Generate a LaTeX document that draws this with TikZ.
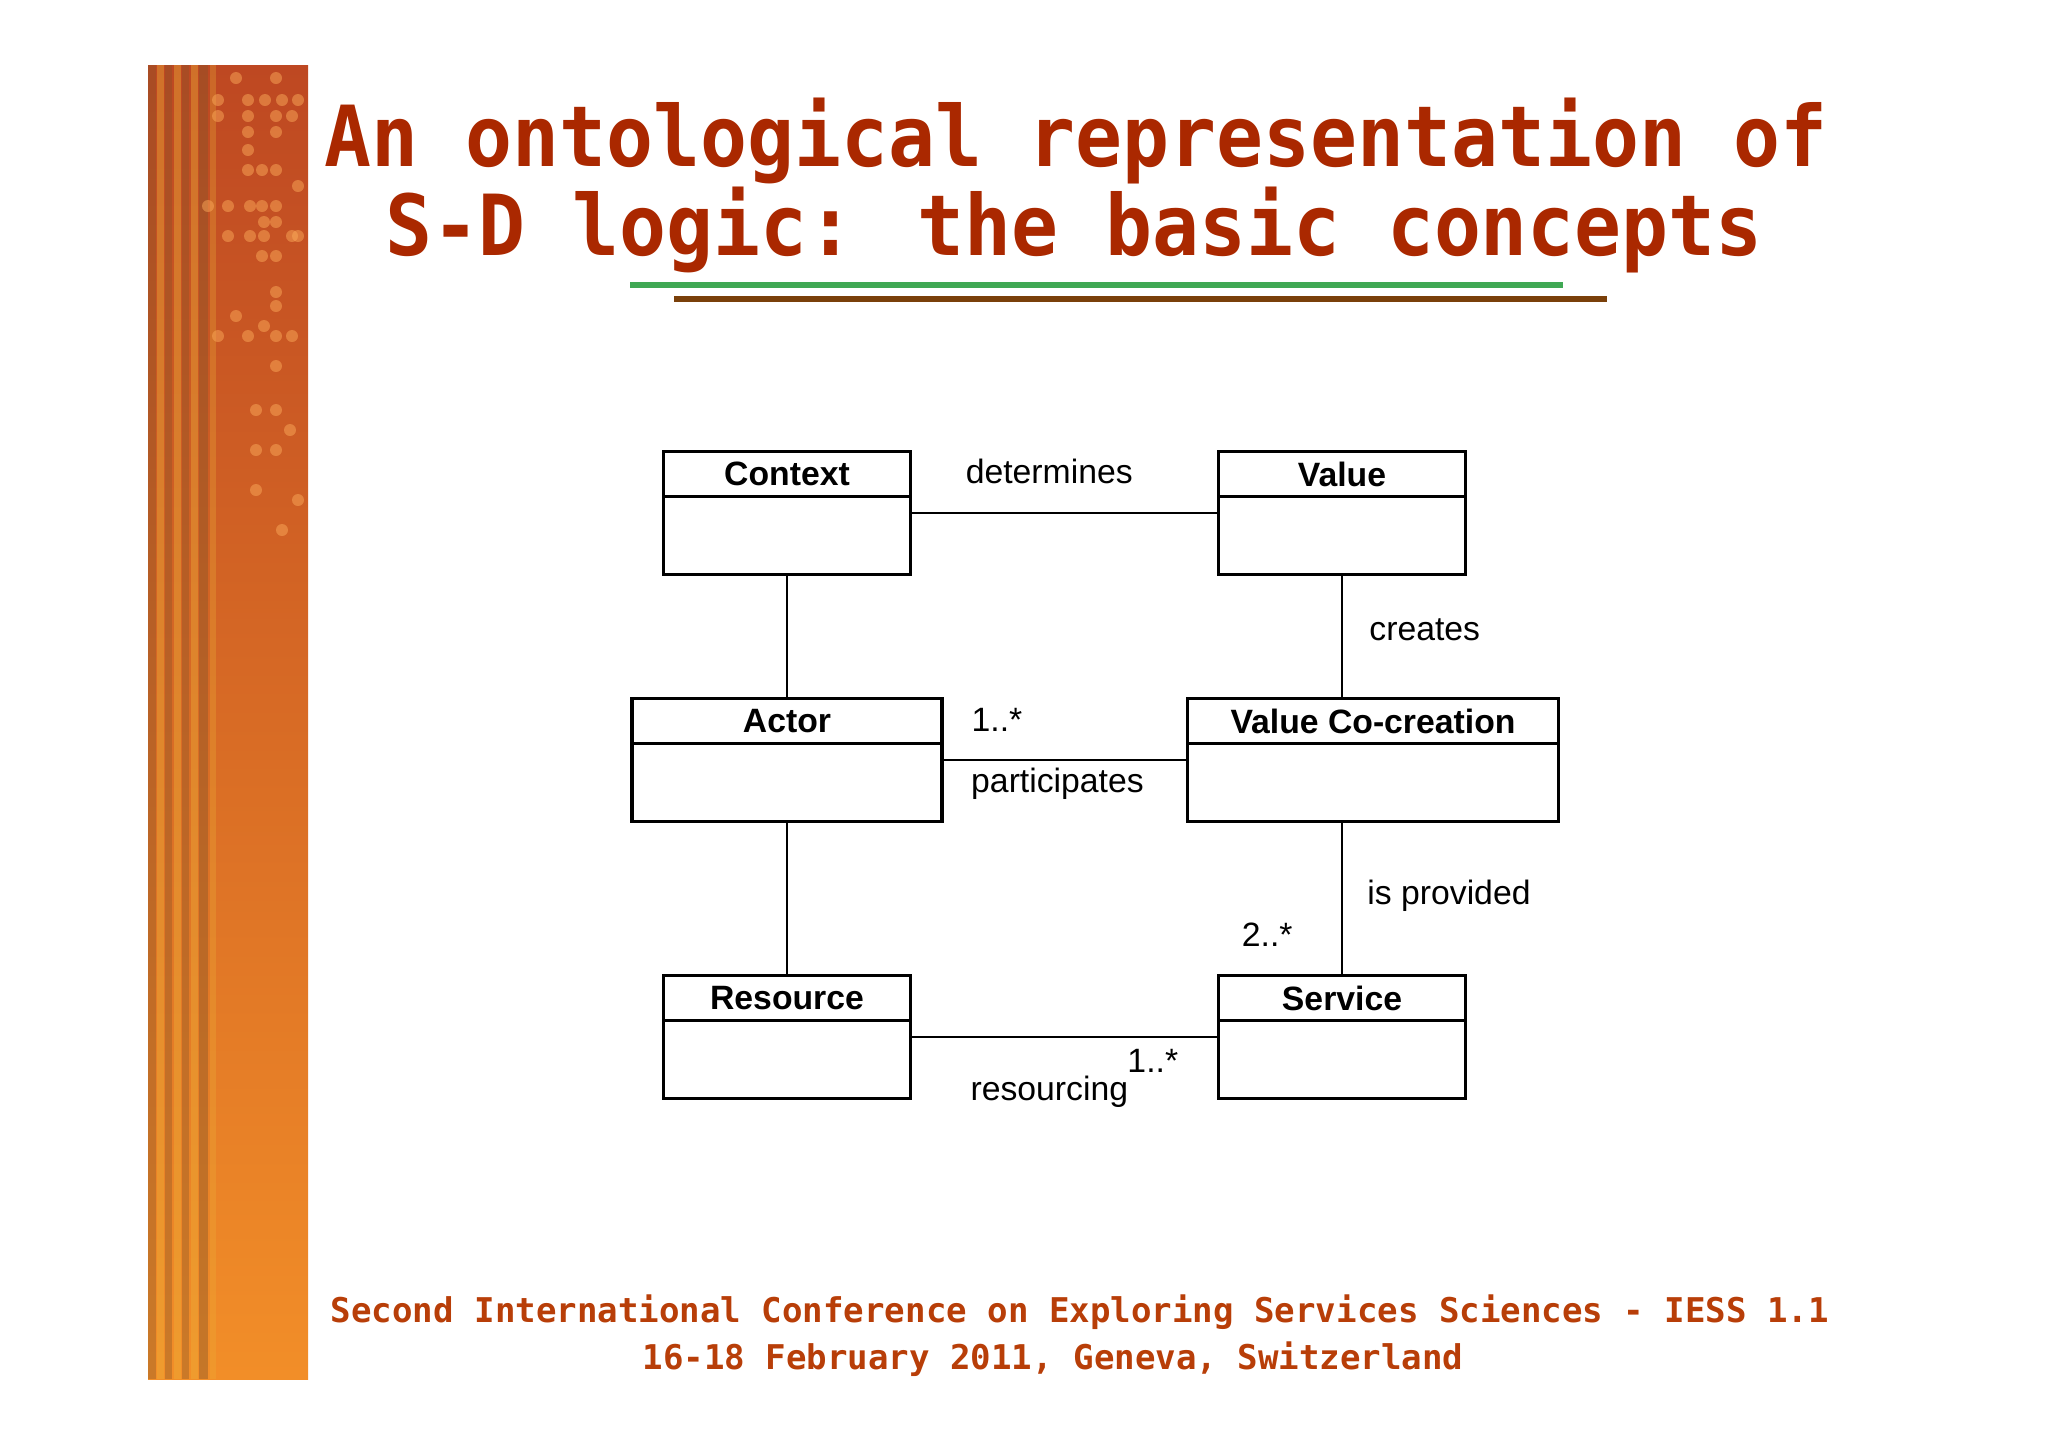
\documentclass[tikz,border=0pt]{standalone}
\usepackage{fontspec}
\setmainfont{Liberation Sans}
\newfontfamily\slidefont{DejaVu Sans Mono}
\usetikzlibrary{positioning}

\definecolor{titlered}{RGB}{170,40,0}
\definecolor{footred}{RGB}{184,62,8}
\definecolor{rulegreen}{RGB}{64,168,84}
\definecolor{rulebrown}{RGB}{122,64,10}
\definecolor{bartop}{RGB}{190,72,34}
\definecolor{barmid}{RGB}{236,108,30}
\definecolor{barbottom}{RGB}{242,142,40}
\definecolor{stripebrown}{RGB}{130,84,40}
\definecolor{stripeyellow}{RGB}{236,176,56}
\definecolor{dotorange}{RGB}{250,168,88}

\tikzstyle{class body}=[draw, line width=1pt, minimum height=12.27mm, inner sep=0pt]
\tikzstyle{class head}=[draw, line width=1pt, minimum height=4.5mm, inner sep=0pt,
  font=\fontsize{9.6}{11}\selectfont\bfseries]
\tikzstyle{assoc}=[line width=.8pt]
\tikzstyle{role}=[inner sep=0pt, font=\fontsize{9.6}{11}\selectfont]
\tikzstyle{slide title}=[anchor=base, inner sep=0pt, titlered,
  font=\slidefont\bfseries\fontsize{22.2}{24}\selectfont]
\tikzstyle{slide foot}=[anchor=base, inner sep=0pt, footred,
  font=\slidefont\bfseries\fontsize{9.7}{11}\selectfont]

\begin{document}
\begin{tikzpicture}[x=.1mm,y=-.1mm]
    \useasboundingbox (0,0) rectangle (2048,1447);

    % Side bar
    \shade[top color=bartop, middle color=barmid, bottom color=barbottom]
    (148,65) rectangle (308,1379);
    \fill[stripebrown,opacity=.35] (148,65) rectangle (156,1379);
    \fill[stripeyellow,opacity=.4] (157,65) rectangle (164,1379);
    \fill[stripebrown,opacity=.35] (165,65) rectangle (172,1379);
    \fill[stripeyellow,opacity=.4] (174,65) rectangle (181,1379);
    \fill[stripebrown,opacity=.35] (182,65) rectangle (189,1379);
    \fill[stripeyellow,opacity=.4] (191,65) rectangle (198,1379);
    \fill[stripebrown,opacity=.4] (199,65) rectangle (208,1379);
    \fill[stripeyellow,opacity=.3] (210,65) rectangle (216,1379);
    \foreach \dx/\dy in {236/78,276/78,218/100,248/100,265/100,282/100,298/100,
      218/116,248/116,276/116,292/116,248/132,276/132,248/150,248/170,262/170,276/170,
      298/186,208/206,228/206,250/206,262/206,276/206,264/222,276/222,
      228/236,250/236,264/236,292/236,298/236,262/256,276/256,
      276/292,276/306,236/316,264/326,218/336,248/336,276/336,292/336,276/366,
      256/410,276/410,290/430,256/450,276/450,256/490,298/500,282/530}
      \fill[dotorange,opacity=.5] (\dx,\dy) circle (6);

    % Title
    \node[slide title] (title top) at (1076,166) {\scalebox{1}[1.08]{An ontological representation of}};
    \node[slide title] (title bottom) at (1074,255) {\scalebox{1}[1.08]{S-D logic: the basic concepts}};
    \draw[rulegreen,line width=1.5pt] (630,285) -- (1563,285);
    \draw[rulebrown,line width=1.5pt] (674,299) -- (1607,299);

    % Classes
    \draw (787,513) node[class body, minimum width=24.7mm] (context) {};
    \node[class head, minimum width=24.7mm, anchor=north] (context head) at (context.north) {Context};
    \draw (1342,513) node[class body, minimum width=24.7mm] (value) {};
    \node[class head, minimum width=24.7mm, anchor=north] (value head) at (value.north) {Value};
    \draw (787,760) node[class body, minimum width=31mm] (actor) {};
    \node[class head, minimum width=31mm, anchor=north] (actor head) at (actor.north) {Actor};
    \draw (1373,760) node[class body, minimum width=37.1mm] (cocreation) {};
    \node[class head, minimum width=37.1mm, anchor=north] (cocreation head) at (cocreation.north) {Value Co-creation};
    \draw (787,1037) node[class body, minimum width=24.7mm] (resource) {};
    \node[class head, minimum width=24.7mm, anchor=north] (resource head) at (resource.north) {Resource};
    \draw (1342,1037) node[class body, minimum width=24.7mm] (service) {};
    \node[class head, minimum width=24.7mm, anchor=north] (service head) at (service.north) {Service};

    % Associations
    \draw[assoc] (context) -- node[role, pos=.45, yshift=4.2mm] (determines) {determines} (value);
    \draw[assoc] (context) -- (actor);
    \draw[assoc] (value) -- node[role, pos=.44, right=2.6mm] (creates) {creates} (value |- cocreation.north);
    \draw[assoc] (actor) -- node[role, pos=.22, yshift=4mm] (actor mult) {1..*}
      node[role, pos=.47, yshift=-2.4mm] (participates) {participates} (cocreation);
    \draw[assoc] (actor) -- (resource);
    \draw[assoc] (cocreation.south -| service) -- node[role, pos=.48, right=2.4mm] (provided) {is provided}
      node[role, pos=.74, left=4.8mm] (service mult) {2..*} (service);
    \draw[assoc] (resource) -- node[role, pos=.79, yshift=-2.4mm] (resource mult) {1..*}
      node[role, pos=.45, yshift=-5.5mm] (resourcing) {resourcing} (service);

    % Footer
    \node[slide foot] (conference) at (1080,1322) {Second International Conference on Exploring Services Sciences - IESS 1.1};
    \node[slide foot] (dates) at (1053,1369) {16-18 February 2011, Geneva, Switzerland};

\end{tikzpicture}
\end{document}
